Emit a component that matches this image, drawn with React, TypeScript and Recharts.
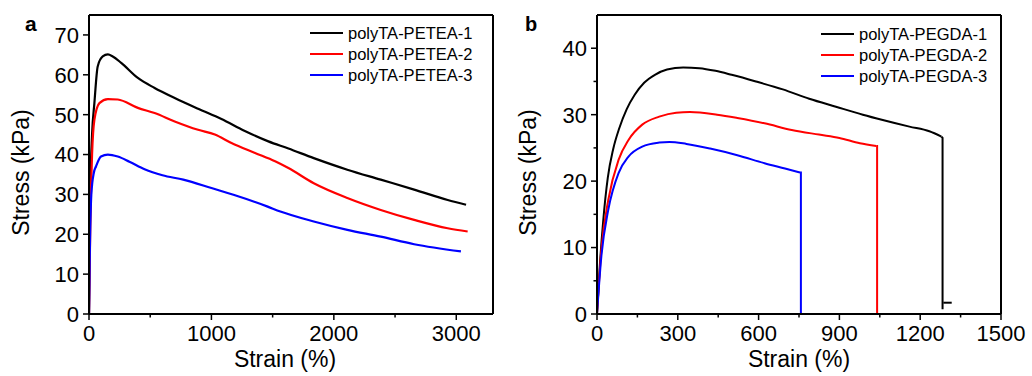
import React from 'react';
import { LineChart, Line, XAxis, YAxis, ReferenceLine, Legend } from 'recharts';

const FONT = '"Liberation Sans", Arial, Helvetica, sans-serif';

// ---------- Panel a: polyTA-PETEA ----------
const peteaNames = ['polyTA-PETEA-1', 'polyTA-PETEA-2', 'polyTA-PETEA-3'];
const seriesColors = ['#000000', '#ff0000', '#0000ff'];

const petea1Strain = [0, 10, 25, 44, 71, 112, 154, 194, 263, 399, 536, 700, 891, 1082, 1273, 1465, 1629, 1836, 2110, 2383, 2656, 2930, 3080];
const petea1Stress = [0, 30, 45, 52.9, 62.1, 64.6, 65.1, 64.6, 63.0, 59.2, 56.7, 54.2, 51.5, 48.9, 45.9, 43.3, 41.5, 39.1, 36.2, 33.7, 31.2, 28.6, 27.4];

const petea2Strain = [0, 12, 25, 44, 85, 154, 235, 399, 536, 700, 891, 1028, 1164, 1356, 1520, 1629, 1836, 2110, 2383, 2656, 2930, 3093];
const petea2Stress = [0, 25, 40, 48.7, 52.9, 53.9, 53.8, 51.7, 50.4, 48.3, 46.2, 45.0, 42.9, 40.4, 38.3, 36.6, 32.8, 29.1, 26.1, 23.6, 21.5, 20.7];

const petea3Strain = [0, 5, 19, 40, 57, 98, 154, 235, 330, 454, 600, 770, 1000, 1180, 1454, 1563, 1836, 2110, 2383, 2656, 3038];
const petea3Stress = [0, 11.9, 30, 35.5, 37.0, 39.5, 40.0, 39.5, 38.2, 36.3, 34.8, 33.7, 31.6, 29.9, 27, 25.7, 23.2, 21.1, 19.4, 17.5, 15.7];

const peteaXTicks = [0, 500, 1000, 1500, 2000, 2500, 3000];
const peteaXLabels = [0, 1000, 2000, 3000];
const peteaYTicks = [0, 10, 20, 30, 40, 50, 60, 70];
const peteaYLabels = [0, 10, 20, 30, 40, 50, 60, 70];
const peteaXDomain = [0, 3300];
const peteaYDomain = [0, 75];

// ---------- Panel b: polyTA-PEGDA ----------
const pegdaNames = ['polyTA-PEGDA-1', 'polyTA-PEGDA-2', 'polyTA-PEGDA-3'];

const pegda1Strain = [0, 10, 23, 40, 60, 83, 110, 140, 175, 215, 260, 320, 380, 440, 500, 590, 690, 788, 887, 987, 1061, 1160, 1234, 1279];
const pegda1Stress = [0, 7, 14, 20.5, 24.8, 28.0, 30.8, 33.0, 34.8, 36.0, 36.8, 37.1, 37.0, 36.6, 36.0, 35.0, 33.8, 32.4, 31.2, 30.0, 29.2, 28.2, 27.5, 26.7];
const pegda1BreakStrain = [1279, 1283, 1283];
const pegda1BreakStress = [26.7, 26.5, 0.7];
const pegda1TailStrain = [1286, 1317];
const pegda1TailStress = [1.7, 1.7];

const pegda2Strain = [0, 16, 42, 80, 117, 168, 231, 294, 345, 446, 521, 622, 723, 824, 900, 976, 1037];
const pegda2Stress = [0, 9.6, 17.2, 23.2, 26.2, 28.5, 29.7, 30.3, 30.4, 30, 29.5, 28.7, 27.7, 27, 26.5, 25.7, 25.3];
const pegda2BreakStrain = [1037, 1040, 1040, 1083];
const pegda2BreakStress = [25.3, 25.3, 0, 0];

const pegda3Strain = [0, 16, 42, 80, 117, 168, 231, 269, 332, 420, 521, 622, 698, 754];
const pegda3Stress = [0, 8.6, 15.7, 21.2, 23.7, 25.2, 25.8, 25.9, 25.6, 24.9, 23.9, 22.7, 21.9, 21.3];
const pegda3BreakStrain = [754, 757, 757];
const pegda3BreakStress = [21.3, 21.3, 0];

const pegdaXTicks = [0, 150, 300, 450, 600, 750, 900, 1050, 1200, 1350, 1500];
const pegdaXLabels = [0, 300, 600, 900, 1200, 1500];
const pegdaYTicks = [0, 5, 10, 15, 20, 25, 30, 35, 40];
const pegdaYLabels = [0, 10, 20, 30, 40];
const pegdaXDomain = [0, 1500];
const pegdaYDomain = [0, 45];

const toPoints = (xs: number[], ys: number[]) => xs.map((x, i) => ({ x, y: ys[i] }));

const TICK = 6;
const MINOR = 3.5;
const GAP = 4;
const TICK_FONT = 22;

const makeXTick = (labels: number[]) => (props: any) => {
  const { x, y, payload } = props;
  const v = payload.value;
  const major = labels.includes(v);
  const y0 = y - TICK - GAP;
  return (
    <g>
      <line x1={x} x2={x} y1={y0} y2={y0 + (major ? TICK : MINOR)} stroke="#000" strokeWidth={1.5} />
      {major && (
        <text x={x} y={y0 + TICK + GAP} dy="0.78em" textAnchor="middle" fontSize={TICK_FONT} fill="#000" fontFamily={FONT}>
          {v}
        </text>
      )}
    </g>
  );
};

const makeYTick = (labels: number[]) => (props: any) => {
  const { x, y, payload } = props;
  const v = payload.value;
  const major = labels.includes(v);
  const x0 = x + TICK + GAP;
  return (
    <g>
      <line x1={x0} x2={x0 - (major ? TICK : MINOR)} y1={y} y2={y} stroke="#000" strokeWidth={1.5} />
      {major && (
        <text x={x0 - TICK - GAP} y={y} dy="0.36em" textAnchor="end" fontSize={TICK_FONT} fill="#000" fontFamily={FONT}>
          {v}
        </text>
      )}
    </g>
  );
};

const makeXLabel = (text: string, dx: number) => (props: any) => {
  const vb = props.viewBox;
  const cx = vb.x + vb.width / 2 + dx;
  const cy = vb.y + vb.height - 9;
  return (
    <text x={cx} y={cy} textAnchor="middle" fontSize={23} fill="#000" fontFamily={FONT}>
      {text}
    </text>
  );
};

const makeYLabel = (text: string, offset: number, dy: number) => (props: any) => {
  const vb = props.viewBox;
  const cx = vb.x + offset;
  const cy = vb.y + vb.height / 2 + dy;
  return (
    <text
      x={cx}
      y={cy}
      transform={`rotate(-90, ${cx}, ${cy})`}
      textAnchor="middle"
      dominantBaseline="central"
      fontSize={23}
      fill="#000"
      fontFamily={FONT}
    >
      {text}
    </text>
  );
};

const LegendBox = ({ names }: { names: string[] }) => (
  <div style={{ fontFamily: FONT, fontSize: 16.5, color: '#000', lineHeight: '21px' }}>
    {names.map((n, i) => (
      <div key={n} style={{ display: 'flex', alignItems: 'center', height: 21, whiteSpace: 'nowrap' }}>
        <div style={{ width: 33, height: 0, borderTop: `2.5px solid ${seriesColors[i]}`, marginRight: 5 }} />
        <span>{n}</span>
      </div>
    ))}
  </div>
);

const axisLineStyle = { stroke: '#000', strokeWidth: 2 };

export default function App() {
  const p1 = toPoints(petea1Strain, petea1Stress);
  const p2 = toPoints(petea2Strain, petea2Stress);
  const p3 = toPoints(petea3Strain, petea3Stress);
  const g1 = toPoints(pegda1Strain, pegda1Stress);
  const g1b = toPoints(pegda1BreakStrain, pegda1BreakStress);
  const g1t = toPoints(pegda1TailStrain, pegda1TailStress);
  const g2 = toPoints(pegda2Strain, pegda2Stress);
  const g2b = toPoints(pegda2BreakStrain, pegda2BreakStress);
  const g3 = toPoints(pegda3Strain, pegda3Stress);
  const g3b = toPoints(pegda3BreakStrain, pegda3BreakStress);

  return (
    <div style={{ position: 'absolute', left: 0, top: 0, width: 1032, height: 376, background: '#fff', fontFamily: FONT }}>
      <div style={{ position: 'absolute', left: 0, top: 0 }}>
        <LineChart width={500} height={376} margin={{ top: 15, right: 7, bottom: 0, left: 5 }}>
          <XAxis
            type="number"
            dataKey="x"
            domain={peteaXDomain}
            ticks={peteaXTicks}
            interval={0}
            allowDataOverflow
            height={62}
            tickSize={TICK}
            tickMargin={GAP}
            tickLine={false}
            tick={makeXTick(peteaXLabels)}
            axisLine={axisLineStyle}
            label={makeXLabel('Strain (%)', -6)}
          />
          <YAxis
            type="number"
            dataKey="y"
            domain={peteaYDomain}
            ticks={peteaYTicks}
            interval={0}
            allowDataOverflow
            width={84}
            tickSize={TICK}
            tickMargin={GAP}
            tickLine={false}
            tick={makeYTick(peteaYLabels)}
            axisLine={axisLineStyle}
            label={makeYLabel('Stress (kPa)', 16, 8)}
          />
          <ReferenceLine y={75} stroke="#000" strokeWidth={2} />
          <ReferenceLine x={3300} stroke="#000" strokeWidth={2} />
          <Legend
            layout="vertical"
            align="center"
            verticalAlign="middle"
            content={() => <LegendBox names={peteaNames} />}
            wrapperStyle={{ position: 'absolute', left: 310, top: 22.5, width: 'auto', height: 'auto' }}
          />
          <Line data={p1} dataKey="y" type="monotone" stroke={seriesColors[0]} strokeWidth={2.2} dot={false} isAnimationActive={false} />
          <Line data={p2} dataKey="y" type="monotone" stroke={seriesColors[1]} strokeWidth={2.2} dot={false} isAnimationActive={false} />
          <Line data={p3} dataKey="y" type="monotone" stroke={seriesColors[2]} strokeWidth={2.2} dot={false} isAnimationActive={false} />
        </LineChart>
      </div>
      <div style={{ position: 'absolute', left: 500, top: 0 }}>
        <LineChart width={532} height={376} margin={{ top: 15, right: 31, bottom: 0, left: 5 }}>
          <XAxis
            type="number"
            dataKey="x"
            domain={pegdaXDomain}
            ticks={pegdaXTicks}
            interval={0}
            allowDataOverflow
            height={62}
            tickSize={TICK}
            tickMargin={GAP}
            tickLine={false}
            tick={makeXTick(pegdaXLabels)}
            axisLine={axisLineStyle}
            label={makeXLabel('Strain (%)', 0)}
          />
          <YAxis
            type="number"
            dataKey="y"
            domain={pegdaYDomain}
            ticks={pegdaYTicks}
            interval={0}
            allowDataOverflow
            width={92}
            tickSize={TICK}
            tickMargin={GAP}
            tickLine={false}
            tick={makeYTick(pegdaYLabels)}
            axisLine={axisLineStyle}
            label={makeYLabel('Stress (kPa)', 23, 8)}
          />
          <ReferenceLine y={45} stroke="#000" strokeWidth={2} />
          <ReferenceLine x={1500} stroke="#000" strokeWidth={2} />
          <Legend
            layout="vertical"
            align="center"
            verticalAlign="middle"
            content={() => <LegendBox names={pegdaNames} />}
            wrapperStyle={{ position: 'absolute', left: 321, top: 23.5, width: 'auto', height: 'auto' }}
          />
          <Line data={g1} dataKey="y" type="monotone" stroke={seriesColors[0]} strokeWidth={2} dot={false} isAnimationActive={false} />
          <Line data={g1b} dataKey="y" type="linear" stroke={seriesColors[0]} strokeWidth={2} dot={false} isAnimationActive={false} legendType="none" />
          <Line data={g1t} dataKey="y" type="linear" stroke={seriesColors[0]} strokeWidth={2} dot={false} isAnimationActive={false} legendType="none" />
          <Line data={g2} dataKey="y" type="monotone" stroke={seriesColors[1]} strokeWidth={2} dot={false} isAnimationActive={false} />
          <Line data={g2b} dataKey="y" type="linear" stroke={seriesColors[1]} strokeWidth={2} dot={false} isAnimationActive={false} legendType="none" />
          <Line data={g3} dataKey="y" type="monotone" stroke={seriesColors[2]} strokeWidth={2} dot={false} isAnimationActive={false} />
          <Line data={g3b} dataKey="y" type="linear" stroke={seriesColors[2]} strokeWidth={2} dot={false} isAnimationActive={false} legendType="none" />
        </LineChart>
      </div>
      <svg width={1032} height={376} style={{ position: 'absolute', left: 0, top: 0, pointerEvents: 'none' }}>
        <text x={25} y={31} fontSize={21} fontWeight="bold" fill="#000" fontFamily={FONT}>a</text>
        <text x={525} y={31} fontSize={20} fontWeight="bold" fill="#000" fontFamily={FONT}>b</text>
      </svg>
    </div>
  );
}
